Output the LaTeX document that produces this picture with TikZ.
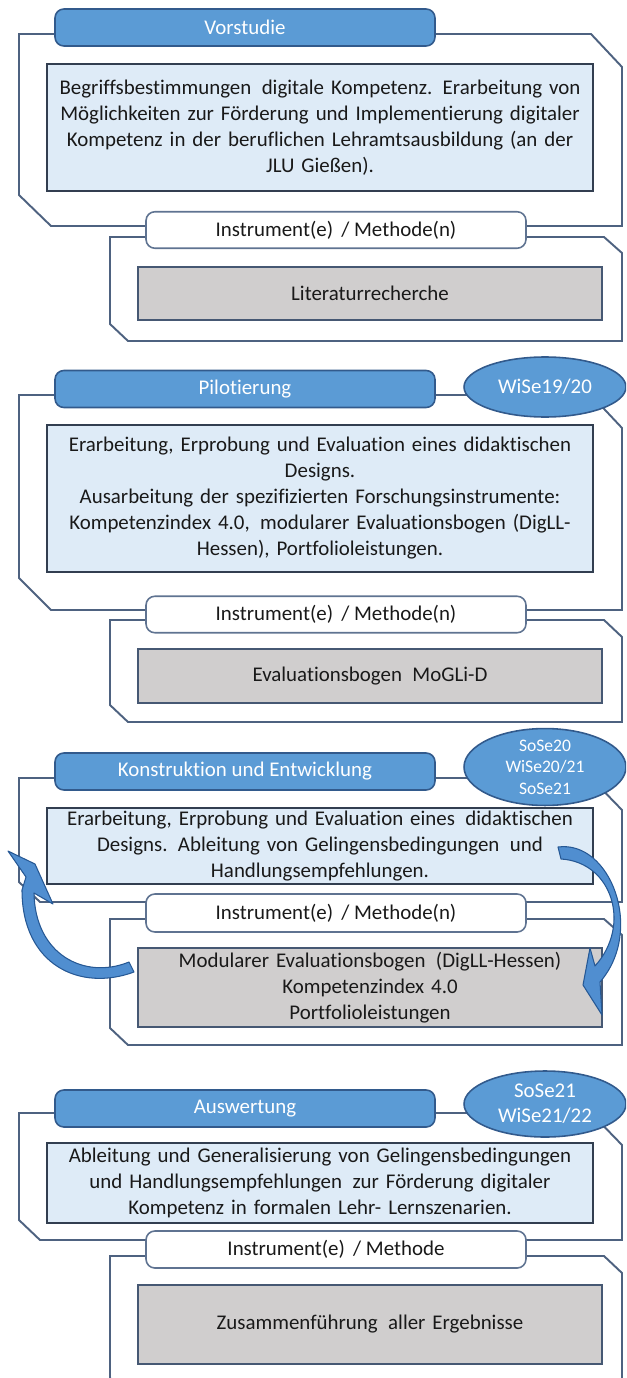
\documentclass[tikz,border=0pt]{standalone}
\usepackage{fontspec}
\setmainfont{Carlito}[Ligatures=NoCommon]
\usetikzlibrary{shapes.geometric}
\definecolor{framec}{RGB}{78,98,128}
\definecolor{hdrblue}{RGB}{91,155,213}
\definecolor{hdrborder}{RGB}{50,90,140}
\definecolor{textfill}{RGB}{222,235,247}
\definecolor{textborder}{RGB}{50,62,80}
\definecolor{grayfill}{RGB}{208,206,206}
\definecolor{grayborder}{RGB}{70,88,115}
\definecolor{instborder}{RGB}{95,115,145}
\definecolor{arrowfill}{RGB}{80,142,208}
\definecolor{arrowborder}{RGB}{38,88,148}
\definecolor{ink}{RGB}{25,25,25}
\begin{document}
\begin{tikzpicture}[x=0.02cm,y=-0.02cm,
  font=\fontsize{11.9}{14.8}\selectfont,
  frame/.style={draw=framec, line width=1.1pt},
  hdr/.style={draw=hdrborder, fill=hdrblue, rounded corners=5pt, line width=0.9pt,
    text=white, minimum width=7.6cm, minimum height=0.74cm, inner sep=0pt},
  era/.style={ellipse, draw=hdrborder, fill=hdrblue, line width=0.9pt, text=white,
    minimum width=3.24cm, minimum height=1.3cm, inner sep=0pt, align=center},
  tbox/.style={draw=textborder, fill=textfill, line width=0.9pt, text=ink,
    text width=10.92cm, align=center, inner sep=0pt},
  ibox/.style={draw=instborder, fill=white, rounded corners=5pt, line width=0.9pt, text=ink,
    minimum width=7.6cm, minimum height=0.73cm, inner sep=0pt},
  gbox/.style={draw=grayborder, fill=grayfill, line width=0.9pt, text=ink,
    text width=9.28cm, align=center, inner sep=0pt},
  looparrow/.style={fill=arrowfill, draw=arrowborder, line width=0.6pt, line join=round}
]
\useasboundingbox (0,0) rectangle (626,1378);
\clip (0,0) rectangle (626,1378);

% ---------- frames (behind the boxes) ----------
\draw[frame] (19,34) -- (591,34) -- (622,67) -- (622,226) -- (51,226) -- (19,195) -- cycle;
\draw[frame] (110,237) -- (604,237) -- (622,253) -- (622,341) -- (128,341) -- (110,324) -- cycle;
\draw[frame] (19,395) -- (591,395) -- (622,428) -- (622,610) -- (51,610) -- (19,578) -- cycle;
\draw[frame] (110,620) -- (604,620) -- (622,637) -- (622,722) -- (128,722) -- (110,705) -- cycle;
\draw[frame] (19,778) -- (591,778) -- (622,810) -- (622,902) -- (40,902) -- (19,882) -- cycle;
\draw[frame] (110,919) -- (604,919) -- (622,935) -- (622,1045) -- (128,1045) -- (110,1028) -- cycle;
\draw[frame] (19,1113) -- (591,1113) -- (622,1145) -- (622,1240) -- (40,1240) -- (19,1220) -- cycle;
\draw[frame] (110,1256) -- (604,1256) -- (622,1273) -- (622,1395) -- (128,1395) -- (110,1378) -- cycle;

% ---------- Vorstudie ----------
\node[hdr] (h1) at (245,27.5) {Vorstudie};
\node[tbox, minimum height=2.54cm] (t1) at (320,127.5)
  {Begriffsbestimmungen\, digitale Kompetenz. Erarbeitung von\\
   Möglichkeiten zur Förderung und Implementierung digitaler\\
   Kompetenz in der beruflichen Lehramtsausbildung (an der\\
   JLU Gießen).};
\node[ibox] (i1) at (336,230) {Instrument(e) \,/ Methode(n)};
\node[gbox, minimum height=1.06cm] (g1) at (370,293.5) {Literaturrecherche};

% ---------- Pilotierung ----------
\node[hdr] (h2) at (245,389) {Pilotierung};
\node[era, minimum height=1.2cm] (e2) at (545,387) {WiSe19/20};
\node[tbox, minimum height=2.94cm] (t2) at (320,498.5)
  {Erarbeitung, Erprobung und Evaluation eines didaktischen\\
   Designs.\\
   Ausarbeitung der spezifizierten Forschungsinstrumente:\\
   Kompetenzindex 4.0, \,modularer Evaluationsbogen (DigLL-\\
   Hessen), Portfolioleistungen.};
\node[ibox] (i2) at (336,614.5) {Instrument(e) \,/ Methode(n)};
\node[gbox, minimum height=1.08cm] (g2) at (370,676) {Evaluationsbogen\, MoGLi-D};

% ---------- Konstruktion und Entwicklung ----------
\node[hdr] (h3) at (245,771.5) {Konstruktion und Entwicklung};
\node[era, font=\fontsize{10}{12.2}\selectfont] (e3) at (545,767) {SoSe20\\WiSe20/21\\SoSe21};
\node[tbox, minimum height=1.52cm] (t3) at (320,846)
  {Erarbeitung, Erprobung und Evaluation eines\, didaktischen\\
   Designs. Ableitung von Gelingensbedingungen\, und\\
   Handlungsempfehlungen.};
\node[ibox, minimum height=0.76cm] (i3) at (336,913) {Instrument(e) \,/ Methode(n)};
\node[gbox, minimum height=1.58cm] (g3) at (370,987.5)
  {Modularer Evaluationsbogen\, (DigLL-Hessen)\\
   Kompetenzindex 4.0\\
   Portfolioleistungen};

% ---------- Auswertung ----------
\node[hdr] (h4) at (245,1108.5) {Auswertung};
\node[era, minimum height=1.32cm, font=\fontsize{11.9}{14.2}\selectfont] (e4) at (545,1104) {SoSe21\\WiSe21/22};
\node[tbox, minimum height=1.6cm] (t4) at (320,1183)
  {Ableitung und Generalisierung von Gelingensbedingungen\\
   und Handlungsempfehlungen\, zur Förderung digitaler\\
   Kompetenz in formalen Lehr- Lernszenarien.};
\node[ibox, minimum height=0.74cm] (i4) at (336,1249.5) {Instrument(e) \,/ Methode};
\node[gbox, minimum height=1.58cm] (g4) at (370,1324.5) {Zusammenführung\, aller Ergebnisse};

% ---------- curved arrows of the iteration loop ----------
% back from the instruments to the design phase (head up-left)
\draw[looparrow] (134,972) .. controls (80,992) and (22,965) .. (22,890)
  -- (26,877) -- (8,851) -- (35,864) -- (53,904) -- (34,893)
  .. controls (35,955) and (85,980) .. (129,962) -- cycle;
% forward from the design phase into the instruments (head pointing left)
\draw[looparrow] (558,847) .. controls (610,840) and (645,930) .. (600,982)
  -- (602,1015) -- (583,985) -- (590,948) -- (595,966)
  .. controls (632,925) and (612,862) .. (561,859) -- cycle;
\end{tikzpicture}
\end{document}
